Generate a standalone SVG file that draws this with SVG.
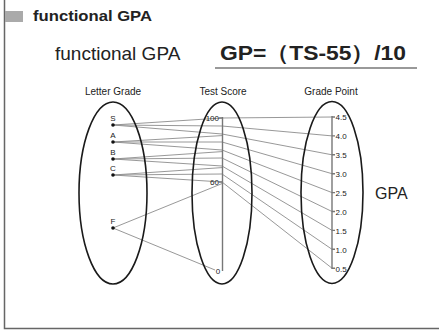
<svg xmlns="http://www.w3.org/2000/svg" width="439" height="331" viewBox="0 0 439 331">
<style>
.t{font-family:"Liberation Sans",Arial,sans-serif;fill:#222}
.hd{font-size:10px;text-anchor:middle}
.lg{font-size:8px;text-anchor:middle}
.gp{font-size:8px}
.el{fill:none;stroke:#1a1a1a;stroke-width:1.6}
.ax{stroke:#777;stroke-width:1.4;fill:none}
.cn line{stroke:#8c8c8c;stroke-width:0.9}
</style>
<rect x="0" y="0" width="439" height="331" fill="#fff"/>
<path d="M4.5 0 V328.5 H439" fill="none" stroke="#666" stroke-width="1.5"/>
<g id="header">
<rect x="5" y="11" width="18" height="11" fill="#aaa"/>
<text class="t" x="33" y="21" font-size="14" font-weight="bold" textLength="119" lengthAdjust="spacingAndGlyphs">functional GPA</text>
</g>
<g id="subtitle"><text class="t" x="55" y="60" font-size="19">functional GPA</text></g>
<g id="formula">
<text class="t" x="220" y="60" font-size="21" font-weight="bold" textLength="186" lengthAdjust="spacingAndGlyphs" font-family="'Liberation Sans','Noto Sans CJK JP',sans-serif">GP=（TS-55）/10</text>
<line x1="215" y1="68" x2="417" y2="68" stroke="#777" stroke-width="1.5"/>
</g>
<g class="cn" id="connectors">
<line x1="113" y1="125" x2="222" y2="118"/>
<line x1="113" y1="125" x2="222" y2="126"/>
<line x1="113" y1="125" x2="222" y2="134"/>
<line x1="113" y1="142" x2="222" y2="135.6"/>
<line x1="113" y1="142" x2="222" y2="142"/>
<line x1="113" y1="142" x2="222" y2="150"/>
<line x1="113" y1="159" x2="222" y2="151.6"/>
<line x1="113" y1="159" x2="222" y2="158"/>
<line x1="113" y1="159" x2="222" y2="166"/>
<line x1="113" y1="175" x2="222" y2="167.6"/>
<line x1="113" y1="175" x2="222" y2="174"/>
<line x1="113" y1="175" x2="222" y2="182"/>
<line x1="113" y1="228" x2="222" y2="183.6"/>
<line x1="113" y1="228" x2="215" y2="270"/>
<line x1="222" y1="118" x2="332" y2="117"/>
<line x1="222" y1="126" x2="332" y2="135.9"/>
<line x1="222" y1="134" x2="332" y2="154.8"/>
<line x1="222" y1="142" x2="332" y2="173.7"/>
<line x1="222" y1="150" x2="332" y2="192.6"/>
<line x1="222" y1="158" x2="332" y2="211.5"/>
<line x1="222" y1="166" x2="332" y2="230.4"/>
<line x1="222" y1="174" x2="332" y2="249.3"/>
<line x1="222" y1="182" x2="332" y2="268.2"/>
</g>
<g id="letter-grade">
<text class="t hd" x="113" y="95">Letter Grade</text>
<ellipse class="el" cx="113" cy="193" rx="34" ry="91"/>
<circle cx="113" cy="125" r="1.8" fill="#111"/>
<circle cx="113" cy="142" r="1.8" fill="#111"/>
<circle cx="113" cy="159" r="1.8" fill="#111"/>
<circle cx="113" cy="175" r="1.8" fill="#111"/>
<circle cx="113" cy="228" r="1.8" fill="#111"/>
<text class="t lg" x="113" y="121">S</text>
<text class="t lg" x="113" y="138">A</text>
<text class="t lg" x="113" y="155">B</text>
<text class="t lg" x="113" y="171">C</text>
<text class="t lg" x="113" y="224">F</text>
</g>
<g id="test-score">
<text class="t hd" x="223" y="95">Test Score</text>
<ellipse class="el" cx="222" cy="193" rx="30" ry="91"/>
<line class="ax" x1="222.5" y1="117" x2="222.5" y2="271"/>
<line class="ax" x1="219" y1="118" x2="222.5" y2="118"/>
<line class="ax" x1="219" y1="182" x2="222.5" y2="182"/>
<text class="t gp" x="219" y="120.5" text-anchor="end" font-size="7">100</text>
<text class="t gp" x="219" y="185" text-anchor="end" font-size="7">60</text>
<text class="t gp" x="218" y="273.5" text-anchor="middle" font-size="7">0</text>
</g>
<g id="grade-point">
<text class="t hd" x="331" y="95">Grade Point</text>
<ellipse class="el" cx="332" cy="192.5" rx="31" ry="91"/>
<line class="ax" x1="332" y1="116" x2="332" y2="269"/>
<path class="ax" d="M332 117h3M332 135.9h3M332 154.8h3M332 173.7h3M332 192.6h3M332 211.5h3M332 230.4h3M332 249.3h3M332 268.2h3" stroke-width="1"/>
<text class="t gp" x="335.5" y="120">4.5</text>
<text class="t gp" x="335.5" y="139">4.0</text>
<text class="t gp" x="335.5" y="158">3.5</text>
<text class="t gp" x="335.5" y="177">3.0</text>
<text class="t gp" x="335.5" y="196">2.5</text>
<text class="t gp" x="335.5" y="215">2.0</text>
<text class="t gp" x="335.5" y="234">1.5</text>
<text class="t gp" x="335.5" y="253">1.0</text>
<text class="t gp" x="335.5" y="272">0.5</text>
</g>
<g id="gpa-label"><text class="t" x="375" y="199" font-size="16">GPA</text></g>
</svg>
